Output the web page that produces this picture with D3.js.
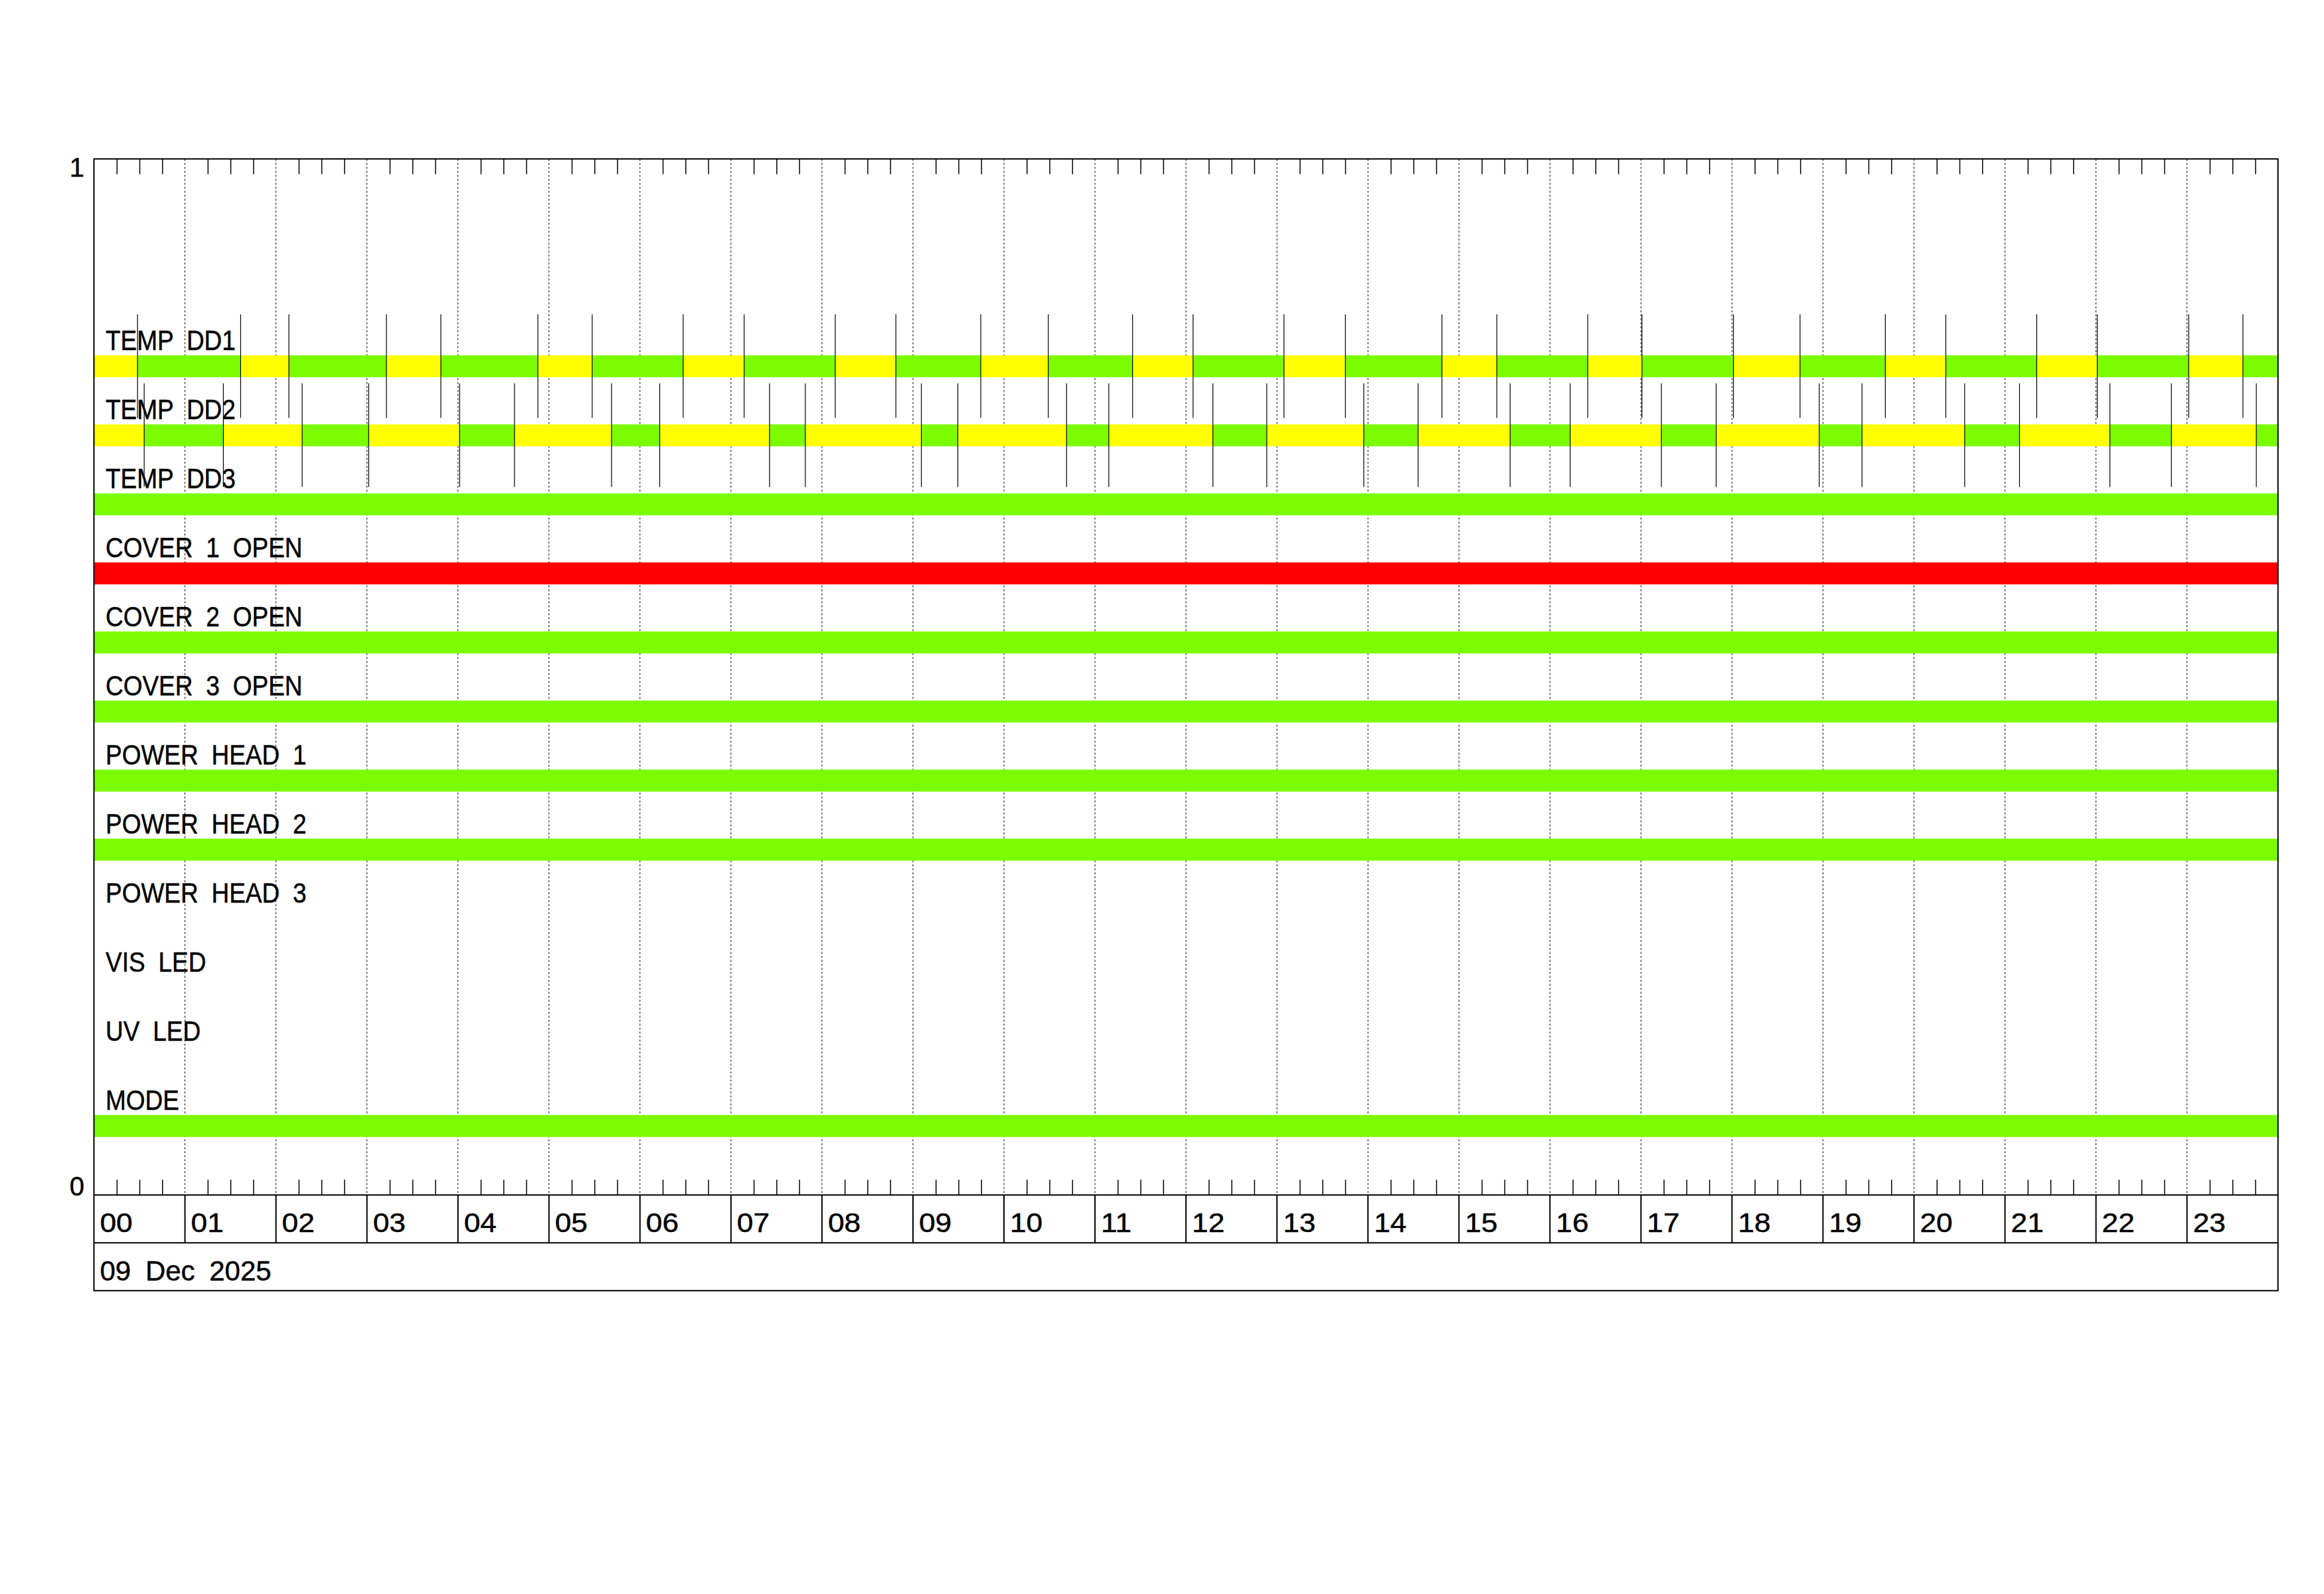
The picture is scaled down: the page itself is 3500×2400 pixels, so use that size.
<!DOCTYPE html>
<html>
<head>
<meta charset="utf-8">
<script src="https://cdn.jsdelivr.net/npm/d3@7"></script>
<style>
  html, body { margin: 0; padding: 0; background: #fff; }
  svg { display: block; }
  text { font-family: "Liberation Sans", Arial, sans-serif; fill: #000; stroke: #000; stroke-width: 0.5; }
</style>
</head>
<body>
<script>
// ---------------- DATA ----------------
const rowLabels = ["TEMP DD1", "TEMP DD2", "TEMP DD3", "COVER 1 OPEN", "COVER 2 OPEN", "COVER 3 OPEN",
                   "POWER HEAD 1", "POWER HEAD 2", "POWER HEAD 3", "VIS LED", "UV LED", "MODE"];
// status of rows shown as a single full-day bar ("ok", "alarm", or null = no bar)
const rowStatus = [null, null, "ok", "alarm", "ok", "ok", "ok", "ok", null, null, null, "ok"];

// TEMP DD1 segments (start hour, state)
const dd1Start = [0, 0.479, 1.612, 2.142, 3.214, 3.812, 4.878, 5.475, 6.475, 7.145, 8.146, 8.812, 9.745,
                  10.487, 11.413, 12.078, 13.077, 13.752, 14.813, 15.416, 16.415, 17.011, 18.016, 18.748,
                  19.685, 20.350, 21.349, 22.014, 23.019, 23.615];
const dd1State = ["warn", "ok", "warn", "ok", "warn", "ok", "warn", "ok", "warn", "ok", "warn", "ok", "warn",
                  "ok", "warn", "ok", "warn", "ok", "warn", "ok", "warn", "ok", "warn", "ok",
                  "warn", "ok", "warn", "ok", "warn", "ok"];
// TEMP DD2 segments (start hour, state)
const dd2Start = [0, 0.552, 1.422, 2.288, 3.019, 4.018, 4.621, 5.688, 6.217, 7.424, 7.817, 9.092, 9.493,
                  10.688, 11.152, 12.296, 12.888, 13.954, 14.551, 15.562, 16.222, 17.224, 17.826, 18.959,
                  19.429, 20.557, 21.160, 22.153, 22.829, 23.762];
const dd2State = ["warn", "ok", "warn", "ok", "warn", "ok", "warn", "ok", "warn", "ok", "warn", "ok", "warn",
                  "ok", "warn", "ok", "warn", "ok", "warn", "ok", "warn", "ok", "warn", "ok",
                  "warn", "ok", "warn", "ok", "warn", "ok"];

const hourLabels = ["00","01","02","03","04","05","06","07","08","09","10","11",
                    "12","13","14","15","16","17","18","19","20","21","22","23"];
const dateLabel = "09 Dec 2025";
const yTickLabels = ["0", "1"];

// ---------------- LAYOUT ----------------
const W = 3500, H = 2400;
const L = 141.5, R = 3430.7, T = 239.3, B = 1799.3;
const hourRowB = 1871.3, dateRowB = 1943.3;
const colors = { ok: "#7cfc00", warn: "#ffff00", alarm: "#ff0000" };

const svg = d3.select("body").append("svg").attr("width", W).attr("height", H);
svg.append("rect").attr("width", W).attr("height", H).attr("fill", "#fff");

const x = d3.scaleLinear().domain([0, 24]).range([L, R]);
const y = d3.scaleLinear().domain([0, 1]).range([B, T]);
const nRows = rowLabels.length;
const rowCenter = i => (nRows - i) / 15;   // DD1 at 0.8 ... MODE at 1/15
const barHalf = 0.0106;
const markHalf = 0.05;

// hour dotted gridlines
svg.append("g").selectAll("line").data(d3.range(1, 24)).join("line")
  .attr("x1", d => x(d)).attr("x2", d => x(d)).attr("y1", T).attr("y2", B)
  .attr("stroke", "#000").attr("stroke-width", 1).attr("stroke-dasharray", "3,3");

// minor ticks (every 15 minutes, not on the hour)
const minor = d3.range(0, 96).map(q => q / 4).filter(h => h % 1 !== 0);
const topAxis = d3.axisTop(x).tickValues(minor).tickSize(-23).tickFormat("");
const botAxis = d3.axisBottom(x).tickValues(minor).tickSize(-23).tickFormat("");
const gTop = svg.append("g").attr("transform", `translate(0,${T})`).call(topAxis);
const gBot = svg.append("g").attr("transform", `translate(0,${B})`).call(botAxis);
[gTop, gBot].forEach(g => {
  g.select(".domain").remove();
  g.selectAll(".tick line").attr("stroke", "#000").attr("stroke-width", 1.5);
});

// full-day bars
const fullRows = rowLabels.map((l, i) => ({ i, s: rowStatus[i] })).filter(d => d.s);
svg.append("g").selectAll("rect").data(fullRows).join("rect")
  .attr("x", x(0)).attr("width", x(24) - x(0))
  .attr("y", d => y(rowCenter(d.i) + barHalf))
  .attr("height", d => y(rowCenter(d.i) - barHalf) - y(rowCenter(d.i) + barHalf))
  .attr("fill", d => colors[d.s]);

// segmented rows
function segRow(starts, states, rowIdx) {
  const segs = starts.map((s, k) => ({ s, e: k + 1 < starts.length ? starts[k + 1] : 24, st: states[k] }));
  const c = rowCenter(rowIdx);
  const g = svg.append("g");
  g.selectAll("rect").data(segs).join("rect")
    .attr("x", d => x(d.s)).attr("width", d => x(d.e) - x(d.s))
    .attr("y", y(c + barHalf)).attr("height", y(c - barHalf) - y(c + barHalf))
    .attr("fill", d => colors[d.st]).attr("shape-rendering", "crispEdges");
  return { starts: starts.slice(1), c };
}
const m1 = segRow(dd1Start, dd1State, 0);
const m2 = segRow(dd2Start, dd2State, 1);
[m1, m2].forEach(m => {
  svg.append("g").selectAll("line").data(m.starts).join("line")
    .attr("x1", d => x(d)).attr("x2", d => x(d))
    .attr("y1", y(m.c + markHalf)).attr("y2", y(m.c - markHalf))
    .attr("stroke", "#000").attr("stroke-width", 1.2);
});

// row labels (narrow glyphs, wide word gaps)
svg.append("g").selectAll("text").data(rowLabels).join("text")
  .attr("transform", (d, i) => `translate(159,${y(rowCenter(i) + barHalf) - 8}) scale(0.88,1)`)
  .attr("font-size", 42).attr("word-spacing", 11)
  .text(d => d);

// frame
svg.append("rect").attr("x", L).attr("y", T).attr("width", R - L).attr("height", dateRowB - T)
  .attr("fill", "none").attr("stroke", "#000").attr("stroke-width", 2);
svg.append("line").attr("x1", L).attr("x2", R).attr("y1", B).attr("y2", B).attr("stroke", "#000").attr("stroke-width", 2);
svg.append("line").attr("x1", L).attr("x2", R).attr("y1", hourRowB).attr("y2", hourRowB).attr("stroke", "#000").attr("stroke-width", 2);

// hour row
svg.append("g").selectAll("line").data(d3.range(1, 24)).join("line")
  .attr("x1", d => x(d)).attr("x2", d => x(d)).attr("y1", B).attr("y2", hourRowB)
  .attr("stroke", "#000").attr("stroke-width", 2);
svg.append("g").selectAll("text").data(hourLabels).join("text")
  .attr("transform", (d, i) => `translate(${x(i) + 9},1855) scale(1.08,1)`)
  .attr("font-size", 41).text(d => d);

// date row
svg.append("text").attr("x", x(0) + 9).attr("y", 1928).attr("font-size", 42)
  .attr("word-spacing", 10).text(dateLabel);

// y labels
svg.append("text").attr("x", 127).attr("y", B + 1).attr("text-anchor", "end").attr("font-size", 40).text(yTickLabels[0]);
svg.append("text").attr("x", 127).attr("y", T + 27).attr("text-anchor", "end").attr("font-size", 40).text(yTickLabels[1]);
</script>
</body>
</html>
